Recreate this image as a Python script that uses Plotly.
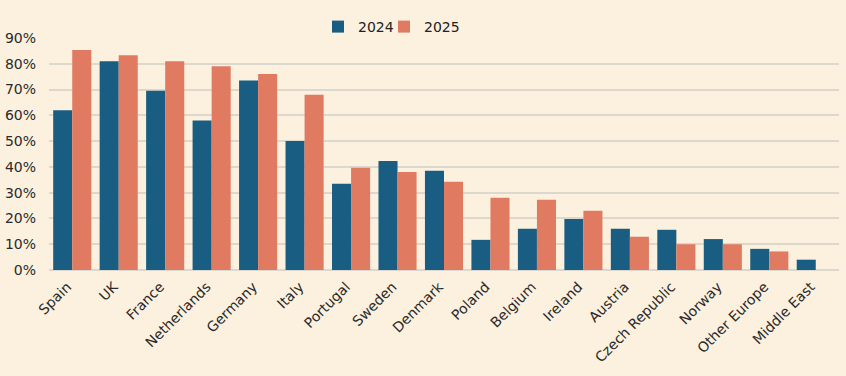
import plotly.graph_objects as go

categories = ["Spain", "UK", "France", "Netherlands", "Germany", "Italy", "Portugal",
              "Sweden", "Denmark", "Poland", "Belgium", "Ireland", "Austria",
              "Czech Republic", "Norway", "Other Europe", "Middle East"]
values_2024 = [62, 81, 69.5, 58, 73.5, 50, 33.5, 42.3, 38.5, 11.7, 16, 19.8, 16, 15.6, 12, 8.2, 4]
values_2025 = [85.3, 83.3, 81, 79, 76, 68, 39.7, 38, 34.2, 28, 27.3, 23, 12.9, 10, 10, 7.2, None]
y_ticks = [0, 10, 20, 30, 40, 50, 60, 70, 80, 90]
y_tick_labels = ["0%", "10%", "20%", "30%", "40%", "50%", "60%", "70%", "80%", "90%"]

BG = "#FCF0DF"
FONT = "DejaVu Sans, Verdana, sans-serif"

fig = go.Figure()
fig.add_trace(go.Bar(name="2024", x=categories, y=values_2024, marker_color="#195E82",
                     marker_line_width=0, legend="legend", showlegend=True))
fig.add_trace(go.Bar(name="2025", x=categories, y=values_2025, marker_color="#E07B62",
                     marker_line_width=0, legend="legend2", showlegend=True))

leg_common = dict(orientation="h", xref="container", xanchor="left",
                  y=1 + (38 - 27) / 232, yanchor="middle",
                  font=dict(size=14, color="#222"), bgcolor="rgba(0,0,0,0)",
                  itemwidth=30, visible=True)

fig.update_layout(
    width=846, height=376,
    showlegend=True,
    paper_bgcolor=BG, plot_bgcolor=BG,
    barmode="group", bargap=0.18, bargroupgap=0,
    margin=dict(l=49, r=7, t=38, b=106, autoexpand=False),
    font=dict(family=FONT, color="#2a2a2a", size=14),
    legend=dict(x=318 / 846, **leg_common),
    legend2=dict(x=384 / 846, **leg_common),
    xaxis=dict(tickangle=-45, tickfont=dict(size=14, color="#2a2a2a"), showgrid=False,
               showline=False, ticks="", automargin=False,
               ticklabelshift=-5, ticklabelstandoff=5),
    yaxis=dict(range=[0, 90], tickvals=y_ticks, ticktext=y_tick_labels,
               showgrid=True, gridcolor="#DDD8CF", gridwidth=1.5, zeroline=True,
               zerolinecolor="#DDD8CF", zerolinewidth=1.5, automargin=False,
               tickfont=dict(size=14, color="#2a2a2a"), ticks="", ticklabelstandoff=12),
)

fig.write_html(
    "out.html",
    config={"displayModeBar": False},
    post_script="document.body.style.margin='0';document.body.style.background='" + BG + "';",
)
